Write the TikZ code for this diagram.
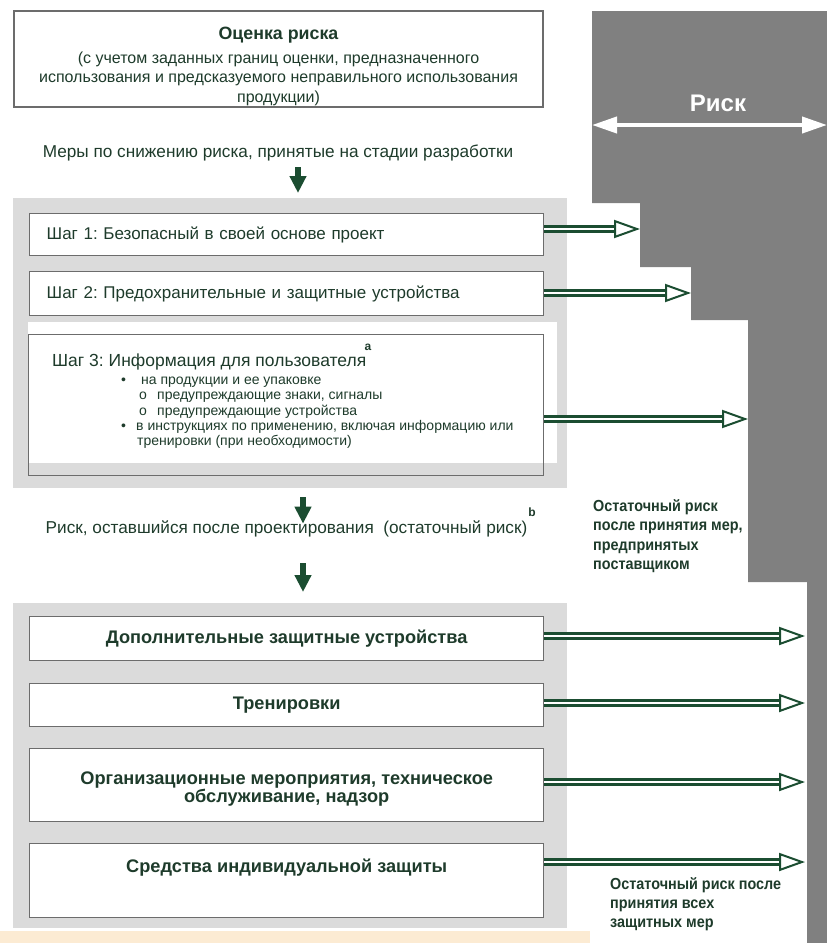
\documentclass[tikz,border=0pt]{standalone}
\usepackage{fontspec}
\setmainfont{Liberation Sans}
\newfontfamily\narrowfont{Liberation Sans}[FakeStretch=0.9]
\usetikzlibrary{arrows.meta}
\definecolor{txtgreen}{HTML}{1E3B2B}
\definecolor{arrgreen}{HTML}{1B4D31}
\definecolor{riskgray}{HTML}{808080}
\definecolor{panelgray}{HTML}{DBDBDB}
\definecolor{framegray}{HTML}{6C6C6C}
\definecolor{peach}{HTML}{FCEBD3}
\newcommand\fsz[2]{\fontsize{#1}{#2}\selectfont}

\begin{document}
\frenchspacing
\begin{tikzpicture}[x=1pt, y=-1pt,
    box/.style={draw=framegray, line width=1.4pt, fill=white, inner sep=0pt, minimum width=514pt, text=txtgreen},
    panel/.style={fill=panelgray, inner sep=0pt, anchor=north west},
    note/.style={text=txtgreen, inner sep=0pt},
    harrow/.style={draw=arrgreen, line width=2.2pt, double=white, double distance=2.8pt,
        -{Triangle[open, length=26pt, width=18pt, line width'=2pt]}},
    downarr/.style={draw=arrgreen, line width=5.5pt, -{Triangle[length=17pt, width=16pt]}}
]

    \useasboundingbox (0,0) rectangle (827,943);
    \fill[peach] (0,931) rectangle (590,943);

    \fill[riskgray] (592,11) -- (827,11) -- (827,943) -- (807,943) -- (807,582) -- (748,582)
        -- (748,320) -- (691,320) -- (691,267) -- (640,267) -- (640,203) -- (592,203) -- cycle;
    \node[text=white, inner sep=0pt, font=\fsz{24}{28}\bfseries] (risk) at (718,103) {Риск};
    \coordinate (rl) at (592,125);
    \coordinate (rr) at (827,125);
    \draw[white, line width=4pt, {Triangle[length=25pt, width=16pt]}-{Triangle[length=25pt, width=16pt]}] (rl) -- (rr);

    \node[box, minimum width=529pt, minimum height=96pt, align=center, font=\fsz{16}{19.5}] (assess) at (278.5,59)
        {{\rule{0pt}{27pt}\fsz{17.8}{20}\bfseries Оценка риска}\\[4pt](с учетом заданных границ оценки, предназначенного\\использования и предсказуемого неправильного использования\\продукции)};
    \node[note, font=\fsz{17.2}{20}] (design) at (278,153) {Меры по снижению риска, принятые на стадии разработки};

    \node[panel, minimum width=554pt, minimum height=290pt] (stage1) at (13,198) {};
    \node[panel, fill=white, minimum width=529pt, minimum height=141pt] (s3back) at (28,322) {};
    \node[box, minimum height=42pt, anchor=north west, text width=480pt, align=left, font=\fsz{17}{20}] (step1) at (29,213)
        {Шаг 1: Безопасный в своей основе проект};
    \node[box, minimum height=44pt, anchor=north west, text width=480pt, align=left, font=\fsz{17}{20}] (step2) at (29,271)
        {Шаг 2: Предохранительные и защитные устройства};
    \node[box, fill=none, minimum width=515pt, minimum height=141pt, anchor=north west] (step3) at (28,334) {};
    \node[note, anchor=west, font=\fsz{17.5}{20}] (s3title) at (52,362) {Шаг 3: Информация для пользователя};
    \node[note, font=\fsz{12}{14}\bfseries] (supa) at (368,347) {a};
    \node[note, anchor=north west, align=left, font=\fsz{14}{15.2}] (s3list) at (121,377)
        {\makebox[20pt][l]{•}на продукции и ее упаковке\\
         \hspace*{18pt}\makebox[18pt][l]{o}предупреждающие знаки, сигналы\\
         \hspace*{18pt}\makebox[18pt][l]{o}предупреждающие устройства\\
         \makebox[15pt][l]{•}в инструкциях по применению, включая информацию или\\
         \hspace*{16pt}тренировки (при необходимости)};

    \node[note, font=\fsz{17.2}{20}] (residual) at (286.5,529) {Риск, оставшийся после проектирования\ \ (остаточный риск)};
    \node[note, font=\fsz{12}{14}\bfseries] (supb) at (532,512) {b};
    \node[note, anchor=north west, align=left, font=\narrowfont\bfseries\fsz{16}{19.5}] (supplier) at (593,499)
        {Остаточный риск\\после принятия мер,\\предпринятых\\поставщиком};

    \node[panel, minimum width=554pt, minimum height=325pt] (stage2) at (13,603) {};
    \node[box, minimum height=44pt, anchor=north west, font=\fsz{18.2}{20}\bfseries] (guard) at (29,616)
        {Дополнительные защитные устройства};
    \node[box, minimum height=43pt, anchor=north west, font=\fsz{18.2}{20}\bfseries] (train) at (29,683)
        {Тренировки};
    \node[box, minimum height=73pt, anchor=north west, align=center, font=\fsz{18.2}{18}\bfseries] (org) at (29,748)
        {\rule{0pt}{21pt}Организационные мероприятия, техническое\\обслуживание, надзор};
    \node[box, minimum height=74pt, anchor=north west, text depth=30pt, font=\fsz{18.2}{20}\bfseries] (ppe) at (29,843)
        {Средства индивидуальной защиты};
    \node[note, anchor=north west, align=left, font=\narrowfont\bfseries\fsz{16}{19}] (allmeasures) at (610,877)
        {Остаточный риск после\\принятия всех\\защитных мер};

    \draw[downarr, shorten <=6pt] ([xshift=20pt]design.south) -- ([yshift=5pt]stage1.north -| 298,0);
    \draw[downarr, shorten <=9pt, shorten >=-3pt] (stage1.south -| 303,0) -- (residual.north -| 303,0);
    \draw[downarr, shorten <=26pt, shorten >=11pt] (residual.south -| 303,0) -- (stage2.north -| 303,0);

    \coordinate (t1) at (640,229);
    \coordinate (t2) at (691,293);
    \coordinate (t3) at (748,419);
    \coordinate (tA) at (805,636);
    \coordinate (tB) at (805,703);
    \coordinate (tC) at (805,782);
    \coordinate (tD) at (805,862);
    \draw[harrow] (step1.east |- t1) -- (t1);
    \draw[harrow] (step2.east |- t2) -- (t2);
    \draw[harrow] (step3.east |- t3) -- (t3);
    \draw[harrow] (guard.east |- tA) -- (tA);
    \draw[harrow] (train.east |- tB) -- (tB);
    \draw[harrow] (org.east |- tC) -- (tC);
    \draw[harrow] (ppe.east |- tD) -- (tD);

\end{tikzpicture}
\end{document}
